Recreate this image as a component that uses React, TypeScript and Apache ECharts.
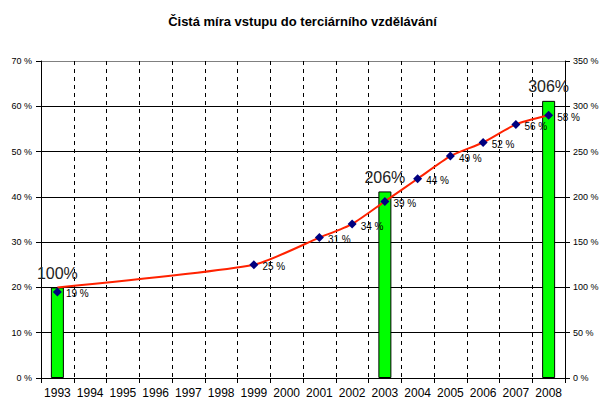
import React, { useEffect, useRef } from "react";
import * as echarts from "echarts";

const years = ["1993", "1994", "1995", "1996", "1997", "1998", "1999", "2000", "2001", "2002", "2003", "2004", "2005", "2006", "2007", "2008"];
const entryRate = [19, null, null, null, null, null, 25, null, 31, 34, 39, 44, 49, 52, 56, 58];
const trendLine = [20, null, null, null, null, null, 25, null, 31, 34, 39, 44, 49, 52, 56, 58];
const indexValues = [100, null, null, null, null, null, null, null, null, null, 206, null, null, null, null, 306];
const leftTicks = { min: 0, max: 70, interval: 10 };
const rightTicks = { min: 0, max: 350, interval: 50 };

const FONT = "Liberation Sans, Arial, sans-serif";

export default function App() {
  const ref = useRef<HTMLDivElement>(null);
  useEffect(() => {
    if (!ref.current) return;
    const chart = echarts.init(ref.current, null, { renderer: "svg" });
    chart.setOption({
      animation: false,
      backgroundColor: "#ffffff",
      textStyle: { fontFamily: FONT },
      title: {
        text: "Čistá míra vstupu do terciárního vzdělávání",
        left: "center",
        top: 10,
        textStyle: { fontFamily: FONT, fontSize: 13, fontWeight: "bold", color: "#000" },
      },
      grid: { left: 41, right: 40, top: 61, bottom: 39 },
      xAxis: {
        type: "category",
        data: years,
        boundaryGap: true,
        axisLine: { lineStyle: { color: "#000", width: 1 } },
        axisTick: { show: true, length: 5, lineStyle: { color: "#000" } },
        axisLabel: { color: "#000", fontSize: 12, margin: 9, interval: 0, fontFamily: FONT },
        splitLine: { show: true, lineStyle: { color: "#000", type: [4, 4], width: 1 } },
      },
      yAxis: [
        {
          type: "value",
          ...leftTicks,
          axisLine: { show: true, lineStyle: { color: "#000" } },
          axisTick: { show: true, length: 5, lineStyle: { color: "#000" } },
          axisLabel: { color: "#000", fontSize: 9, formatter: "{value} %", margin: 9, fontFamily: FONT },
          splitLine: {
            show: true,
            lineStyle: { color: ["#000", "#000", "#000", "#000", "#000", "#000", "#000", "#808080"], width: 1 },
          },
        },
        {
          type: "value",
          ...rightTicks,
          position: "right",
          axisLine: { show: true, lineStyle: { color: "#000" } },
          axisTick: { show: true, length: 5, lineStyle: { color: "#000" } },
          axisLabel: { color: "#000", fontSize: 9, formatter: "{value} %", margin: 8, fontFamily: FONT },
          splitLine: { show: false },
        },
      ],
      series: [
        {
          type: "bar",
          yAxisIndex: 1,
          data: indexValues,
          barWidth: 13,
          itemStyle: { color: "#00ff00", borderColor: "#000", borderWidth: 1 },
          label: {
            show: true,
            position: "top",
            distance: 6,
            formatter: "{c}%",
            fontSize: 16,
            color: "#222",
            fontFamily: FONT,
          },
          z: 1,
        },
        {
          type: "line",
          yAxisIndex: 0,
          data: trendLine,
          connectNulls: true,
          smooth: 0.2,
          showSymbol: false,
          symbol: "none",
          lineStyle: { color: "#ff2200", width: 2 },
          z: 2,
        },
        {
          type: "line",
          yAxisIndex: 0,
          data: entryRate,
          connectNulls: true,
          lineStyle: { opacity: 0 },
          symbol: "diamond",
          symbolSize: 9,
          itemStyle: { color: "#000080" },
          label: {
            show: true,
            position: "right",
            distance: 4,
            offset: [0, 2],
            formatter: "{c} %",
            fontSize: 10,
            color: "#000",
            fontFamily: FONT,
          },
          z: 3,
        },
      ],
    });
    return () => chart.dispose();
  }, []);
  return <div ref={ref} style={{ position: "fixed", left: 0, top: 0, width: 605, height: 417 }} />;
}
